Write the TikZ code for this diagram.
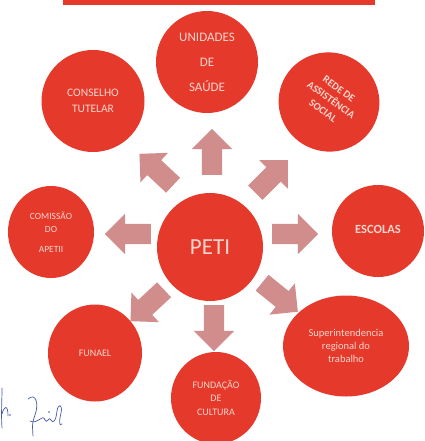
\documentclass[tikz,border=0pt]{standalone}
\usepackage{fontspec}
\setmainfont{Carlito}
\usetikzlibrary{shapes.geometric,shapes.arrows}
\definecolor{cred}{HTML}{E5392B}
\definecolor{ctxt}{HTML}{F7D5CC}
\definecolor{carr}{HTML}{D18C8C}
\definecolor{csig}{HTML}{4A5BA8}
\tikzset{
  blob/.style={ellipse, fill=cred, draw=none, inner sep=0pt, text=ctxt, align=center},
  blockarrow/.style={single arrow, fill=carr, draw=none, inner xsep=0pt, inner ysep=10pt,
    text height=0pt, text depth=0pt, text width=0pt,
    minimum height=46pt, single arrow head extend=10pt},
  sig/.style={draw=csig, line width=0.7pt, line cap=round, line join=round}
}
\begin{document}
\begin{tikzpicture}[x=1pt,y=-1pt]
\useasboundingbox (0,0) rectangle (424,441);
\fill[cred] (63,0) rectangle (375,5);
% circles
\node[blob, minimum width=102pt, minimum height=102pt, font=\fontsize{13}{25}\selectfont] (sau) at (207,62) {UNIDADES\\DE\\SAÚDE};
\node[blob, minimum width=103pt, minimum height=102pt, font=\fontsize{11.5}{16}\selectfont] (con) at (93,101) {CONSELHO\\TUTELAR};
\node[blob, minimum width=101pt, minimum height=99pt, rotate=-20] (rede) at (329,102) {};
\node[text=ctxt, align=center, rotate=-36, inner sep=0pt, font=\bfseries\fontsize{10.5}{13.5}\selectfont] (redeTxt) at (331,100) {REDE DE\\ASSISTÊNCIA\\SOCIAL};
\node[blob, minimum width=106pt, minimum height=108pt, font=\fontsize{23}{26}\selectfont] (peti) at (210,247) {PETI};
\node[blob, minimum width=86pt, minimum height=92pt, font=\fontsize{9.5}{13}\selectfont] (com) at (51,232) {COMISSÃO\\DO\\[7pt]APETII};
\node[blob, minimum width=92pt, minimum height=92pt, font=\bfseries\fontsize{12.5}{15}\selectfont] (esc) at (378,231) {\raisebox{4pt}{ESCOLAS}};
\node[blob, minimum width=94pt, minimum height=97pt, font=\fontsize{10}{13}\selectfont] (fun) at (95,353) {FUNAEL};
\node[blob, minimum width=90pt, minimum height=92pt, font=\fontsize{10}{13.5}\selectfont] (cul) at (216,398) {FUNDAÇÃO\\DE\\CULTURA};
\node[blob, minimum width=126pt, minimum height=101pt, font=\fontsize{10.5}{13}\selectfont] (sup) at (346,346) {Superintendencia\\regional do\\trabalho};
% arrows
\node[blockarrow, rotate=90] (aN) at (212,157) {};
\node[blockarrow, rotate=-90] (aS) at (214,323) {};
\node[blockarrow, rotate=180] (aW) at (133,234) {};
\node[blockarrow, rotate=0] (aE) at (290,234) {};
\node[blockarrow, rotate=137] (aNW) at (160,173) {};
\node[blockarrow, rotate=45] (aNE) at (268,180) {};
\node[blockarrow, rotate=223] (aSW) at (151,302) {};
\node[blockarrow, rotate=-39] (aSE) at (276,294) {};
% signature
\draw[sig] (2,388) .. controls (2,400) and (1,415) .. (2,428);
\draw[sig] (2,414) .. controls (4,406) and (8,404) .. (8,416);
\fill[csig] (10,415) circle (0.9);
\draw[sig] (28,399) .. controls (36,392) and (39,404) .. (35,415) .. controls (31,425) and (33,431) .. (33,436);
\draw[sig] (30,421) .. controls (38,425) and (43,413) .. (45,420) .. controls (47,425) and (49,415) .. (51,420) .. controls (53,424) and (56,421) .. (57,411) .. controls (58,403) and (63,404) .. (61,413) .. controls (59,421) and (59,427) .. (62,424);
\fill[csig] (49,412) circle (0.8);
\end{tikzpicture}
\end{document}
